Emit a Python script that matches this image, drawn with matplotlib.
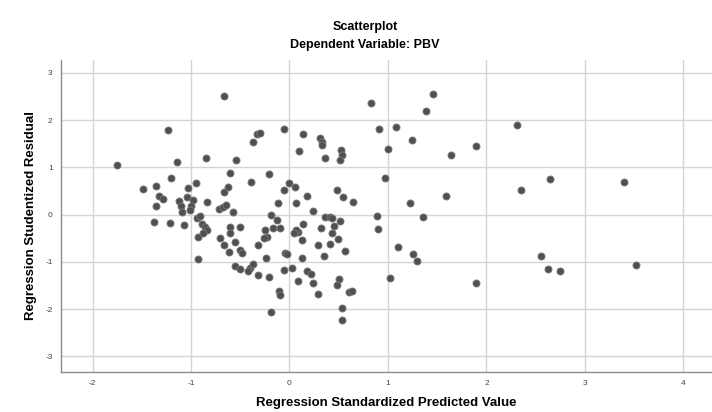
"""
SPSS-style residual scatterplot (Dependent Variable: PBV)
"""

import matplotlib
matplotlib.use("Agg")
import matplotlib.pyplot as plt

plt.rcParams["font.family"] = ["Liberation Sans", "DejaVu Sans"]

# ─────────────────────────────────────────────────────────────────────────────
# Data
# ─────────────────────────────────────────────────────────────────────────────
pred_std = [
    # sparse right part
    0.83, 1.46, 1.39, 0.91, 1.08, 2.31, 1.24, 1.00, 1.89, 1.64,
    0.97, 2.65, 2.35, 3.40, 1.59, 1.22, 0.89, 1.36, 0.90, 1.10,
    1.25, 1.29, 2.55, 2.62, 2.75, 3.52, 1.02, 1.89,
    # upper left cluster
    -0.67, -1.23, -1.75, -1.14, -0.85, -0.54, -0.60, -1.20, -0.95, -1.03,
    -0.62, -0.66, -1.49, -1.36, -1.33, -1.28, -1.36, -1.12, -1.04, -0.98,
    -1.00, -1.10, -0.84, -0.72, -0.68, -0.64, -0.57, -1.09, -1.01,
    # upper middle
    -0.37, -0.33, -0.30, -0.06, 0.14, 0.31, 0.33, 0.33, 0.10, 0.36,
    0.52, 0.53, 0.51, -0.21, -0.39, 0.00, 0.06, -0.06, 0.48, 0.54,
    0.64, 0.18, -0.12, 0.07, 0.24,
    # middle band, left
    -1.38, -1.21, -1.07, -0.94, -0.91, -0.89, -0.86, -0.84, -0.93, -0.88,
    -0.60, -0.50, -0.60, -0.71, -0.66, -0.61, -0.55, -0.93, -0.50, -0.48,
    # middle band, right of zero
    -0.19, -0.13, -0.17, -0.10, -0.25, -0.23, 0.09, 0.36, 0.41, 0.43,
    0.51, 0.14, 0.07, 0.05, 0.32, 0.45, 0.43, 0.49, 0.13,
    -0.32, -0.26, -0.24, -0.05, -0.03, 0.13, 0.29, 0.41, 0.56, 0.35,
    # lower part
    -0.55, -0.50, -0.40, -0.37, -0.42, -0.32, -0.21, -0.06, 0.03, 0.18,
    0.22, 0.09, 0.24, -0.11, -0.10, 0.29, 0.50, 0.48, 0.60, 0.63,
    0.53, 0.53, -0.19,
]

resid_stud = [
    # sparse right part
    2.36, 2.56, 2.19, 1.81, 1.85, 1.89, 1.57, 1.38, 1.45, 1.27,
    0.78, 0.76, 0.53, 0.68, 0.39, 0.24, -0.04, -0.05, -0.31, -0.68,
    -0.84, -0.98, -0.88, -1.15, -1.19, -1.06, -1.34, -1.44,
    # upper left cluster
    2.51, 1.78, 1.04, 1.12, 1.19, 1.15, 0.89, 0.77, 0.67, 0.56,
    0.59, 0.48, 0.54, 0.61, 0.39, 0.33, 0.19, 0.29, 0.38, 0.31,
    0.18, 0.19, 0.26, 0.12, 0.16, 0.20, 0.05, 0.06, 0.10,
    # upper middle
    1.54, 1.70, 1.73, 1.81, 1.70, 1.62, 1.54, 1.48, 1.34, 1.19,
    1.36, 1.26, 1.15, 0.86, 0.69, 0.67, 0.59, 0.52, 0.52, 0.38,
    0.26, 0.40, 0.24, 0.24, 0.08,
    # middle band, left
    -0.15, -0.17, -0.22, -0.08, -0.03, -0.19, -0.26, -0.33, -0.47, -0.40,
    -0.27, -0.27, -0.40, -0.50, -0.64, -0.80, -0.58, -0.94, -0.74, -0.82,
    # middle band, right of zero
    -0.01, -0.12, -0.28, -0.28, -0.33, -0.47, -0.36, -0.05, -0.05, -0.07,
    -0.14, -0.19, -0.33, -0.40, -0.28, -0.24, -0.40, -0.52, -0.54,
    -0.64, -0.50, -0.91, -0.81, -0.84, -0.91, -0.64, -0.62, -0.77, -0.87,
    # lower part
    -1.09, -1.16, -1.14, -1.05, -1.19, -1.28, -1.33, -1.17, -1.14, -1.19,
    -1.26, -1.41, -1.44, -1.62, -1.70, -1.67, -1.36, -1.49, -1.64, -1.62,
    -1.97, -2.23, -2.07,
]

x_ticks = [-2, -1, 0, 1, 2, 3, 4]
y_ticks = [-3, -2, -1, 0, 1, 2, 3]

TITLE = "Scatterplot"
SUBTITLE = "Dependent Variable: PBV"
X_LABEL = "Regression Standardized Predicted Value"
Y_LABEL = "Regression Studentized Residual"

# ─────────────────────────────────────────────────────────────────────────────
# Plot
# ─────────────────────────────────────────────────────────────────────────────
fig = plt.figure(figsize=(7.12, 4.12), dpi=100)
ax = fig.add_axes([61 / 712, 40 / 412, 651 / 712, 312 / 412])

ax.scatter(pred_std, resid_stud, s=26, color="#505050",
           edgecolors="#7a7a7a", linewidths=0.6, zorder=3)

ax.set_xlim(-2.32, 4.29)
ax.set_ylim(-3.33, 3.27)
ax.set_xticks(x_ticks)
ax.set_yticks(y_ticks)
ax.set_xticklabels([str(v) for v in x_ticks])
ax.set_yticklabels([str(v) for v in y_ticks])

ax.grid(True, color="#d4d4d4", lw=1.0, zorder=0)
ax.tick_params(length=0, labelsize=6, colors="#444444", pad=6)

for side in ("top", "right"):
    ax.spines[side].set_visible(False)
for side in ("left", "bottom"):
    ax.spines[side].set_color("#8c8c8c")
    ax.spines[side].set_linewidth(1.0)

ax.set_xlabel(X_LABEL, fontsize=9.5, fontweight="bold")
ax.set_ylabel(Y_LABEL, fontsize=9.5, fontweight="bold")
ax.xaxis.set_label_coords((386 - 61) / 651, (372 - 397) / 312)
ax.yaxis.set_label_coords((37 - 61) / 651, 0.5)

fig.text(365 / 712, 1 - 27 / 412, TITLE, ha="center", va="center",
         fontsize=9, fontweight="bold")
fig.text(365 / 712, 1 - 45 / 412, SUBTITLE, ha="center", va="center",
         fontsize=9, fontweight="bold")

fig.savefig("out.png", dpi=100)
plt.close(fig)
